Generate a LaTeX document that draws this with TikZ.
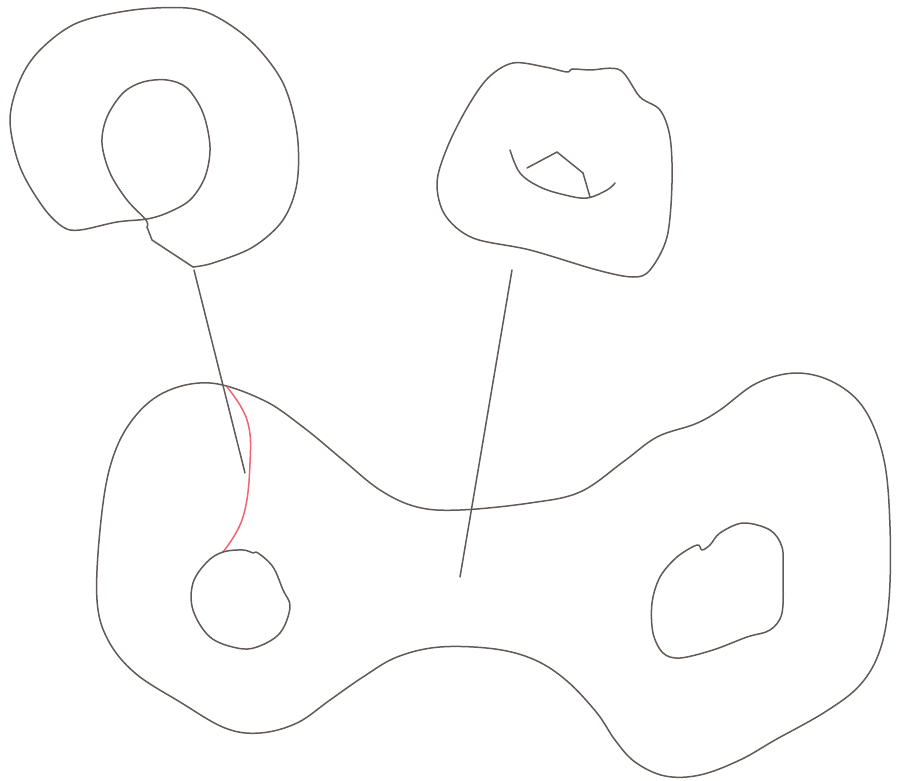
\documentclass[tikz,border=0pt]{standalone}
\begin{document}
\begin{tikzpicture}[x=1pt,y=-1pt,
  curve/.style={draw={rgb,255:red,98;green,90;blue,86}, line width=1.5pt, line join=round, line cap=round},
  redcurve/.style={draw={rgb,255:red,240;green,100;blue,115}, line width=1.5pt, line cap=round}]
\useasboundingbox (0,0) rectangle (897,781);
% top-left figure
\draw[curve] plot[smooth, tension=0.55] coordinates {(147,227) (146,220) (127,200) (110,173) (102,143) (107,117) (123,93) (143,82) (167,80) (187,88) (203,113) (210,147) (205,177) (190,200) (167,213) (147,219) (117,222) (80,230) (63,227) (43,207) (20,167) (10,120) (20,80) (40,50) (77,23) (133,10) (187,8) (217,17) (253,43) (283,83) (297,133) (297,183) (283,220) (253,247) (213,263) (193,267)};
\draw[curve] (193,267) -- (152,240) -- (147,227);
\coordinate (tlA) at (194,270);
\coordinate (tlB) at (245,473);
\draw[curve] (tlA) -- (tlB);
% top-right figure
\draw[curve] plot[smooth cycle, tension=0.55] coordinates {(513,63) (545,67) (567,72) (572,69) (590,70) (620,70) (640,97) (660,110) (670,137) (672,183) (667,237) (650,270) (633,277) (597,270) (530,250) (473,238) (445,215) (437,183) (447,148) (467,108) (488,78)};
\draw[curve] plot[smooth, tension=0.6] coordinates {(510,150) (520,173) (540,187) (565,195) (587,198) (607,190) (615,183)};
\draw[curve] (527,168) -- (557,152) -- (583,173) -- (590,197);
\coordinate (trA) at (512,270);
\coordinate (trB) at (460,577);
\draw[curve] (trA) -- (trB);
% bottom big figure
\draw[curve] plot[smooth cycle, tension=0.6] coordinates {(210,383) (263,400) (303,427) (343,460) (380,490) (417,507) (460,510) (530,503) (580,492) (623,462) (657,437) (695,424) (720,410) (757,383) (797,373) (835,383) (865,410) (884,460) (890,527) (889,600) (880,650) (860,685) (825,712) (775,740) (740,760) (700,775) (665,776) (635,762) (615,740) (597,713) (567,681) (535,660) (495,649) (440,647) (397,657) (363,677) (330,700) (297,723) (260,733) (225,728) (180,702) (135,673) (108,640) (97,600) (100,530) (110,467) (130,423) (163,393)};
\draw[redcurve] plot[smooth, tension=0.7] coordinates {(227,387) (247,420) (250,463) (243,517) (223,552)};
% small circle
\draw[curve] plot[smooth cycle, tension=0.6] coordinates {(243,550) (253,553) (258,553) (273,567) (283,590) (290,607) (280,633) (257,647) (237,648) (210,637) (193,610) (193,583) (207,562) (223,552)};
% bottom-right inner loop
\draw[curve] plot[smooth cycle, tension=0.55] coordinates {(720,533) (743,523) (770,530) (782,547) (783,573) (782,613) (770,630) (747,637) (713,650) (680,658) (663,653) (653,633) (652,603) (660,577) (677,557) (697,545) (702,550) (710,545)};
\end{tikzpicture}
\end{document}
